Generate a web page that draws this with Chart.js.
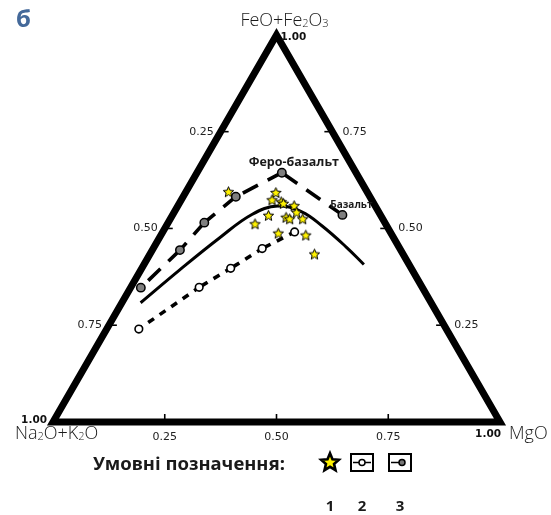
<!DOCTYPE html>
<html>
<head>
<meta charset="utf-8">
<script src="https://cdn.jsdelivr.net/npm/chart.js@4.4.1/dist/chart.umd.min.js"></script>
<style>
html, body { margin: 0; padding: 0; background: #fff; }
canvas { display: block; }
</style>
</head>
<body>
<canvas id="afm" width="551" height="515"></canvas>
<script>
// AFM diagram, fractions: alk = Na2O+K2O, feo = FeO+Fe2O3, mgo = MgO
const sampleAlk = [0.310, 0.205, 0.223, 0.205, 0.202, 0.181, 0.184, 0.251, 0.214, 0.208, 0.179, 0.292, 0.252, 0.193, 0.198]
const sampleFeo = [0.595, 0.593, 0.574, 0.569, 0.565, 0.559, 0.542, 0.534, 0.529, 0.525, 0.525, 0.512, 0.488, 0.483, 0.434]
const sampleMgo = [0.095, 0.202, 0.203, 0.226, 0.233, 0.260, 0.274, 0.215, 0.257, 0.267, 0.296, 0.196, 0.260, 0.324, 0.368]

// trend with grey markers (ends at ferro-basalt and basalt)
const trendGreyAlk = [0.630, 0.494, 0.404, 0.300, 0.166, 0.085]
const trendGreyFeo = [0.347, 0.444, 0.515, 0.582, 0.644, 0.535]
const trendGreyMgo = [0.023, 0.062, 0.081, 0.118, 0.190, 0.380]
const trendGreyNames = ['', '', '', '', 'Феро-базальт', 'Базальт']

// trend with white markers
const trendWhiteAlk = [0.688, 0.499, 0.404, 0.308, 0.214]
const trendWhiteFeo = [0.240, 0.348, 0.397, 0.448, 0.491]
const trendWhiteMgo = [0.072, 0.153, 0.199, 0.244, 0.295]

// tholeiite / calc-alkaline boundary
const boundaryAlk = [0.650, 0.520, 0.389, 0.287, 0.218, 0.172, 0.145, 0.118, 0.101]
const boundaryFeo = [0.308, 0.393, 0.476, 0.536, 0.558, 0.543, 0.507, 0.452, 0.407]
const boundaryMgo = [0.042, 0.087, 0.135, 0.177, 0.224, 0.285, 0.348, 0.430, 0.492]

const tickValues = [0.25, 0.5, 0.75]
const tickLabels = ['0.25', '0.50', '0.75']
const cornerLabel = '1.00'
const legendTitle = 'Умовні позначення:'
const legendNumbers = ['1', '2', '3']
const panelLetter = 'б'

// triangle placement on the canvas (pixels)
const W = 551, H = 515
const TRI_LEFT = 53, TRI_BOTTOM = 422, TRI_SIDE = 447
const SQ3 = Math.sqrt(3) / 2

function toXY(a, f, m) {
    const s = a + f + m
    return { x: (m + f / 2) / s, y: (f / s) * SQ3 }
}
function series(al, fe, mg) {
    return al.map((a, i) => toXY(a, fe[i], mg[i]))
}

function makeStar(size, lineWidth) {
    const c = document.createElement('canvas')
    c.width = size
    c.height = size
    const g = c.getContext('2d')
    const r = size / 2 - lineWidth, ri = r * 0.45
    g.beginPath()
    for (let i = 0; i < 10; i++) {
        const ang = -Math.PI / 2 + i * Math.PI / 5
        const rr = i % 2 ? ri : r
        g.lineTo(size / 2 + rr * Math.cos(ang), size / 2 + 0.6 + rr * Math.sin(ang))
    }
    g.closePath()
    g.fillStyle = '#fff200'
    g.fill()
    g.lineWidth = lineWidth
    g.strokeStyle = '#000'
    g.stroke()
    return c
}
const starSmall = makeStar(13, 1)
const starLegend = makeStar(24, 2.6)

// dash laid so that each segment ends with a dash into the next marker
function dashEnding(dash, gap) {
    return ctx => {
        const L = Math.hypot(ctx.p1.x - ctx.p0.x, ctx.p1.y - ctx.p0.y)
        const P = dash + gap
        return (((dash - 1 - L) % P) + P) % P
    }
}

const triangle = [toXY(1, 0, 0), toXY(0, 0, 1), toXY(0, 1, 0), toXY(1, 0, 0), toXY(0, 0, 1)]

function formulaParts(str) {
    // digits after letters become subscripts
    return str.split(/(\d)/).filter(s => s).map(s => [s, /^\d$/.test(s)])
}
function drawFormula(ctx, str, x, y, size, align) {
    const parts = formulaParts(str)
    const big = `300 ${size}px 'Open Sans'`, small = `300 ${Math.round(size * 0.62)}px 'Open Sans'`
    const widths = parts.map(([t, sub]) => { ctx.font = sub ? small : big; return ctx.measureText(t).width })
    const total = widths.reduce((s, w) => s + w, 0)
    let cx = align === 'center' ? x - total / 2 : align === 'right' ? x - total : x
    ctx.textAlign = 'left'
    ctx.textBaseline = 'alphabetic'
    parts.forEach(([t, sub], i) => {
        ctx.font = sub ? small : big
        ctx.fillText(t, cx, sub ? y + 1 : y)
        cx += widths[i]
    })
}

const ternaryText = {
    id: 'ternaryText',
    afterDraw(chart) {
        const ctx = chart.ctx
        const sx = chart.scales.x, sy = chart.scales.y
        const px = (a, f, m) => {
            const p = toXY(a, f, m)
            return [sx.getPixelForValue(p.x), sy.getPixelForValue(p.y)]
        }
        const seg = (x1, y1, x2, y2) => {
            ctx.beginPath()
            ctx.moveTo(x1, y1)
            ctx.lineTo(x2, y2)
            ctx.stroke()
        }
        ctx.save()
        ctx.strokeStyle = '#000'
        ctx.lineWidth = 1.6
        ctx.fillStyle = '#222'
        ctx.font = "11px 'DejaVu Sans'"
        ctx.textBaseline = 'middle'
        tickValues.forEach((v, i) => {
            const l = px(v, 1 - v, 0)
            seg(l[0], l[1], l[0] + 8, l[1])
            ctx.textAlign = 'right'
            ctx.fillText(tickLabels[i], l[0] - 7, l[1])
            const r = px(0, v, 1 - v)
            seg(r[0], r[1], r[0] - 8, r[1])
            ctx.textAlign = 'left'
            ctx.fillText(tickLabels[i], r[0] + 10, r[1])
            const b = px(1 - v, 0, v)
            seg(b[0], b[1], b[0], b[1] - 8)
            ctx.textAlign = 'center'
            ctx.fillText(tickLabels[i], b[0], b[1] + 15)
        })

        // corner values
        ctx.fillStyle = '#111'
        ctx.font = "bold 10.5px 'DejaVu Sans'"
        const top = px(0, 1, 0), left = px(1, 0, 0), right = px(0, 0, 1)
        ctx.textAlign = 'left'
        ctx.fillText(cornerLabel, top[0] + 4, top[1] + 2)
        ctx.textAlign = 'right'
        ctx.fillText(cornerLabel, left[0] - 6, left[1] - 2)
        ctx.fillText(cornerLabel, right[0] + 1, right[1] + 12)

        // corner oxides
        ctx.fillStyle = '#1a1a1a'
        drawFormula(ctx, 'FeO+Fe2O3', top[0] + 8, top[1] - 9, 18, 'center')
        drawFormula(ctx, 'Na2O+K2O', left[0] - 38, left[1] + 17, 18, 'left')
        drawFormula(ctx, 'MgO', right[0] + 9, right[1] + 17, 18, 'left')

        // names of the reference compositions
        ctx.fillStyle = '#1a1a1a'
        ctx.textBaseline = 'middle'
        ctx.textAlign = 'center'
        trendGreyNames.forEach((name, i) => {
            if (!name) return
            const p = px(trendGreyAlk[i], trendGreyFeo[i], trendGreyMgo[i])
            ctx.font = i === 4 ? "bold 12.5px 'Open Sans'" : "bold 10px 'Open Sans'"
            ctx.fillText(name, p[0] + (i === 4 ? 12 : 9), p[1] - 10)
        })

        // panel letter
        ctx.fillStyle = '#44699a'
        ctx.font = "bold 24px 'Open Sans'"
        ctx.textAlign = 'left'
        ctx.fillText(panelLetter, 16, 20)

        // legend
        ctx.fillStyle = '#1a1a1a'
        ctx.font = "bold 18.5px 'Noto Sans'"
        ctx.textAlign = 'left'
        ctx.fillText(legendTitle, 93, 465)
        ctx.drawImage(starLegend, 330 - 12, 462 - 12)
        ctx.lineWidth = 2
        ctx.strokeStyle = '#000'
        ctx.strokeRect(351, 454, 22, 17)
        ctx.strokeRect(389, 454, 22, 17)
        ctx.lineWidth = 1.5
        seg(353, 462.5, 371, 462.5)
        seg(391, 462.5, 400, 462.5)
        ctx.beginPath()
        ctx.arc(362, 462.5, 3, 0, Math.PI * 2)
        ctx.fillStyle = '#fff'
        ctx.fill()
        ctx.stroke()
        ctx.beginPath()
        ctx.arc(402, 462.5, 3, 0, Math.PI * 2)
        ctx.fillStyle = '#777'
        ctx.fill()
        ctx.stroke()
        ctx.fillStyle = '#1a1a1a'
        ctx.font = "bold 15px 'Noto Sans'"
        ctx.textAlign = 'center'
        ctx.fillText(legendNumbers[0], 330, 507)
        ctx.fillText(legendNumbers[1], 362, 507)
        ctx.fillText(legendNumbers[2], 400, 507)
        ctx.restore()
    }
}

new Chart(document.getElementById('afm').getContext('2d'), {
    type: 'scatter',
    data: {
        datasets: [
            {
                data: series(sampleAlk, sampleFeo, sampleMgo),
                pointStyle: starSmall,
                pointRadius: 6,
                showLine: false
            },
            {
                data: series(trendGreyAlk, trendGreyFeo, trendGreyMgo),
                showLine: true,
                borderColor: '#000',
                borderWidth: 3.6,
                borderDash: [17, 11],
                segment: { borderDashOffset: dashEnding(17, 11) },
                pointRadius: 4.2,
                pointBackgroundColor: '#7f7f7f',
                pointBorderColor: '#000',
                pointBorderWidth: 1.5
            },
            {
                data: series(trendWhiteAlk, trendWhiteFeo, trendWhiteMgo),
                showLine: true,
                borderColor: '#000',
                borderWidth: 3.6,
                borderDash: [7, 7],
                segment: { borderDashOffset: dashEnding(7, 7) },
                pointRadius: 3.8,
                pointBackgroundColor: '#fff',
                pointBorderColor: '#000',
                pointBorderWidth: 1.6
            },
            {
                data: series(boundaryAlk, boundaryFeo, boundaryMgo),
                showLine: true,
                tension: 0.4,
                borderColor: '#000',
                borderWidth: 3,
                pointRadius: 0
            },
            {
                data: triangle,
                showLine: true,
                borderColor: '#000',
                borderWidth: 7,
                borderJoinStyle: 'miter',
                pointRadius: 0
            }
        ]
    },
    options: {
        responsive: false,
        animation: false,
        devicePixelRatio: 1,
        events: [],
        layout: { padding: 0, autoPadding: false },
        plugins: { legend: { display: false }, tooltip: { enabled: false } },
        scales: {
            x: { type: 'linear', display: false, min: -TRI_LEFT / TRI_SIDE, max: (W - TRI_LEFT) / TRI_SIDE },
            y: { type: 'linear', display: false, min: -(H - TRI_BOTTOM) / TRI_SIDE, max: TRI_BOTTOM / TRI_SIDE }
        }
    },
    plugins: [ternaryText]
})
</script>
</body>
</html>
